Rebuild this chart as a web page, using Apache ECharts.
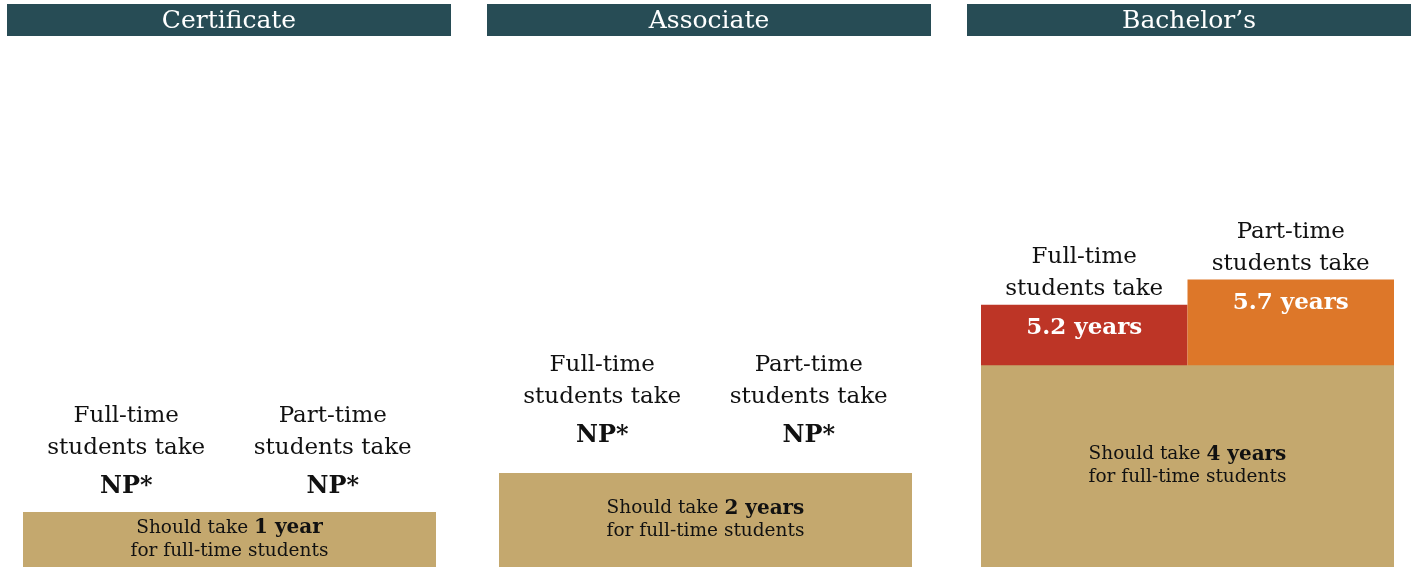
<!DOCTYPE html>
<html>
<head>
<meta charset="utf-8">
<script src="https://cdn.jsdelivr.net/npm/echarts@6/dist/echarts.min.js"></script>
<style>
html, body { margin: 0; padding: 0; background: #fff; }
#chart { width: 1415px; height: 567px; }
</style>
</head>
<body>
<div id="chart"></div>
<script>
// degree types and how long they take
const degrees = ['Certificate', 'Associate', 'Bachelor\u2019s'];
const groups = ['Full-time', 'Part-time'];
const expectedYears = [1, 2, 4];
// null = not published (NP*)
const fullTimeYears = [null, null, 5.2];
const partTimeYears = [null, null, 5.7];

const FONT = 'DejaVu Serif';
const GOLD = '#c4a86e';
const HEADER = '#274c55';
const barColors = ['#bd3526', '#dd7729'];
const panelLeft = [23, 499, 981];
const headerLeft = [7, 487, 967];
const panelWidth = 413;
const yMax = [9.6, 11.2, 10.45];
const topGap = [2, 14, 0];

const grid = [];
const xAxis = [];
const yAxis = [];
const series = [];
const graphic = [];
const CLEAR = 'rgba(0,0,0,0)';

degrees.forEach((name, i) => {
  grid.push({ left: panelLeft[i], width: panelWidth, top: 40, bottom: 0 });
  xAxis.push({ type: 'category', gridIndex: i, data: groups, show: false });
  xAxis.push({ type: 'category', gridIndex: i, data: ['base'], show: false });
  yAxis.push({ type: 'value', gridIndex: i, min: 0, max: yMax[i], show: false });

  const vals = [fullTimeYears[i], partTimeYears[i]];

  // 实际用时柱
  series.push({
    type: 'bar',
    xAxisIndex: i * 2,
    yAxisIndex: i,
    barWidth: '100%',
    barGap: '-100%',
    z: 2,
    silent: true,
    data: vals.map((v, j) => ({
      value: v == null ? expectedYears[i] : v,
      itemStyle: { color: v == null ? CLEAR : barColors[j] },
      label: {
        show: v != null,
        position: 'insideTop',
        distance: 12,
        formatter: v + ' years',
        color: '#fff',
        fontFamily: FONT,
        fontWeight: 'bold',
        fontSize: 23
      }
    }))
  });

  // 柱上方说明文字
  series.push({
    type: 'bar',
    xAxisIndex: i * 2,
    yAxisIndex: i,
    barWidth: '100%',
    barGap: '-100%',
    z: 3,
    silent: true,
    itemStyle: { color: CLEAR },
    data: vals.map((v, j) => ({
      value: v == null ? expectedYears[i] : v,
      label: {
        show: true,
        position: 'top',
        distance: topGap[i],
        formatter: groups[j] + '\nstudents take' + (v == null ? '\n{np|NP*}' : ''),
        color: '#111',
        fontFamily: FONT,
        fontSize: 23,
        lineHeight: 32,
        rich: {
          np: { fontFamily: FONT, fontWeight: 'bold', fontSize: 24, lineHeight: 46, color: '#111' }
        }
      }
    }))
  });

  // 标准年限（金色底）
  const yearText = expectedYears[i] + (expectedYears[i] === 1 ? ' year' : ' years');
  series.push({
    type: 'bar',
    xAxisIndex: i * 2 + 1,
    yAxisIndex: i,
    barWidth: '100%',
    z: 4,
    silent: true,
    itemStyle: { color: GOLD },
    data: [expectedYears[i]],
    label: {
      show: true,
      position: 'inside',
      formatter: '{n|Should take }{b|' + yearText + '}\n{n|for full-time students}',
      rich: {
        n: { fontFamily: FONT, fontSize: 18.5, color: '#111', lineHeight: 23 },
        b: { fontFamily: FONT, fontSize: 20, fontWeight: 'bold', color: '#111', lineHeight: 23 }
      }
    }
  });

  // 标题栏
  graphic.push({
    type: 'rect',
    shape: { x: headerLeft[i], y: 4, width: 444, height: 32 },
    style: { fill: HEADER },
    silent: true
  });
  graphic.push({
    type: 'text',
    x: headerLeft[i] + 222,
    y: 21,
    style: {
      text: name,
      fill: '#fff',
      font: '25px "' + FONT + '"',
      textAlign: 'center',
      textVerticalAlign: 'middle'
    },
    silent: true
  });
});

const chart = echarts.init(document.getElementById('chart'));
chart.setOption({
  animation: false,
  backgroundColor: '#fff',
  grid: grid,
  xAxis: xAxis,
  yAxis: yAxis,
  series: series,
  graphic: graphic
});
</script>
</body>
</html>
